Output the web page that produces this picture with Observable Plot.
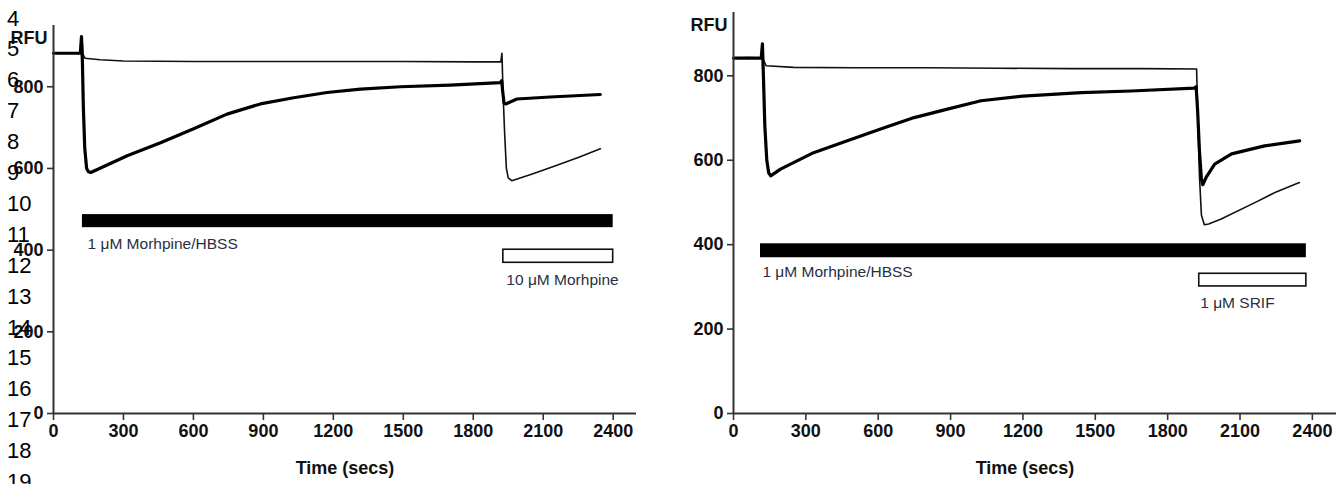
<!DOCTYPE html>
<html><head><meta charset="utf-8">
<script src="https://cdn.jsdelivr.net/npm/d3@7"></script>
<script src="https://cdn.jsdelivr.net/npm/@observablehq/plot@0.6"></script>
<style>
body{margin:0;background:#fff;}
#wrap{position:relative;width:1336px;height:484px;display:flex;overflow:hidden;}
#wrap svg{display:block;overflow:visible;}
#wrap svg g[aria-label$="tick label"]{font-weight:bold;font-size:18px;}
#lines{position:absolute;left:7px;top:3.5px;font:22px "Liberation Sans",Arial,sans-serif;line-height:30.9px;color:#000;pointer-events:none;}
</style></head><body>
<div id="wrap"><div id="lines"></div></div>
<script>
// manuscript line numbers overlaid on the left margin
const lineNumbers = [4,5,6,7,8,9,10,11,12,13,14,15,16,17,18,19];

const xTicks = [0,300,600,900,1200,1500,1800,2100,2400];
const yTicks = [0,200,400,600,800];
const xLabel = "Time (secs)";
const yLabel = "RFU";

// Left panel traces: [time (s), RFU]
const leftThin = [[0,882],[60,883],[115,882],[122,923],[126,880],[135,870],[200,866],[300,863],[600,862],[900,862],[1200,862],[1500,862],[1800,861],[1918,861],[1923,882],[1928,780],[1935,680],[1942,600],[1950,577],[1965,570],[2050,586],[2150,606],[2250,627],[2345,648]];
const leftThick = [[0,882],[60,882],[115,882],[120,923],[124,860],[128,750],[134,650],[142,600],[150,592],[160,590],[316,631],[459,663],[601,697],[744,733],[887,758],[1030,773],[1173,786],[1316,794],[1487,800],[1701,804],[1916,810],[1922,815],[1926,790],[1932,760],[1940,758],[1987,770],[2130,775],[2345,781]];
// Right panel traces
const rightThin = [[0,842],[60,843],[115,842],[120,876],[124,838],[135,824],[250,820],[500,819],[800,819],[1100,818],[1400,817],[1700,817],[1920,816],[1925,700],[1932,560],[1940,470],[1952,447],[1970,449],[2022,461],[2170,502],[2250,525],[2346,547]];
const rightThick = [[0,842],[115,842],[120,876],[124,800],[130,680],[138,600],[146,570],[154,563],[195,579],[332,618],[472,646],[610,674],[749,701],[887,721],[1026,741],[1200,752],[1441,760],[1649,764],[1910,771],[1918,774],[1924,720],[1932,620],[1940,555],[1946,542],[1960,560],[1995,591],[2065,615],[2202,634],[2347,646]];

// Treatment bars: [start s, end s, low RFU, high RFU]
const leftSolidBar = [124,2400,455,487];
const leftOpenBar = [1929,2400,369,401];
const rightSolidBar = [112,2375,369,402];
const rightOpenBar = [1931,2375,301,331];

// Annotation labels: text, time, RFU
const leftLabels = [["1 \u03BCM Morhpine/HBSS",146,416],["10 \u03BCM Morhpine",1942,328]];
const rightLabels = [["1 \u03BCM Morhpine/HBSS",120,334],["1 \u03BCM SRIF",1935,262]];

const FONT = '"Liberation Sans", Arial, Helvetica, sans-serif';
const toRect = b => [{x1:b[0],x2:b[1],y1:b[2],y2:b[3]}];
const toLabels = a => a.map(([text,t,v]) => ({text,t,v}));

function panel({thin, thick, solid, open, labels, marginLeft, marginRight, marginTop, labelDx}) {
  return Plot.plot({
    width: 668, height: 484,
    marginLeft, marginRight, marginTop, marginBottom: 71,
    x: {domain: [0,2500]},
    y: {domain: [0,950]},
    style: {fontFamily: FONT, background: "transparent", overflow: "visible"},
    marks: [
      Plot.rect(toRect(solid), {x1:"x1",x2:"x2",y1:"y1",y2:"y2",fill:"#000"}),
      Plot.rect(toRect(open), {x1:"x1",x2:"x2",y1:"y1",y2:"y2",fill:"#fff",stroke:"#111",strokeWidth:1.6}),
      Plot.text(toLabels(labels), {x:"t",y:"v",text:"text",textAnchor:"start",fontSize:15.5,fill:"#2a2f3f"}),
      Plot.line(thin, {x:d=>d[0], y:d=>d[1], stroke:"#111", strokeWidth:1.6, curve:"linear"}),
      Plot.line(thick, {x:d=>d[0], y:d=>d[1], stroke:"#000", strokeWidth:3.2, curve:"linear"}),
      Plot.ruleY([0], {x1:0, x2:2500, stroke:"#333", strokeWidth:2}),
      Plot.ruleX([0], {y1:0, y2:950, stroke:"#333", strokeWidth:2}),
      Plot.axisX(xTicks, {tickSize:7, tickPadding:4, tickFormat:"d", fontSize:18, fontWeight:"bold", fill:"#111", stroke:"#333", strokeWidth:1.6, label:null}),
      Plot.axisY(yTicks, {tickSize:6, tickPadding:4, tickFormat:"d", fontSize:18, fontWeight:"bold", fill:"#111", stroke:"#333", strokeWidth:1.6, label:null}),
      Plot.text([xLabel], {frameAnchor:"bottom", dy:60, dx:labelDx, fontSize:18, fontWeight:"bold", fill:"#111"}),
      Plot.text([yLabel], {frameAnchor:"top-left", textAnchor:"end", lineAnchor:"middle", dx:-6, dy:13, fontSize:18, fontWeight:"bold", fill:"#111"})
    ]
  });
}

const wrap = document.getElementById("wrap");
wrap.appendChild(panel({thin:leftThin, thick:leftThick, solid:leftSolidBar, open:leftOpenBar, labels:leftLabels, marginLeft:53, marginRight:32, marginTop:25, labelDx:0}));
wrap.appendChild(panel({thin:rightThin, thick:rightThick, solid:rightSolidBar, open:rightOpenBar, labels:rightLabels, marginLeft:65, marginRight:0, marginTop:12, labelDx:-10}));

const ln = document.getElementById("lines");
lineNumbers.forEach(n => { const d = document.createElement("div"); d.textContent = n; ln.appendChild(d); });
</script>
</body></html>
